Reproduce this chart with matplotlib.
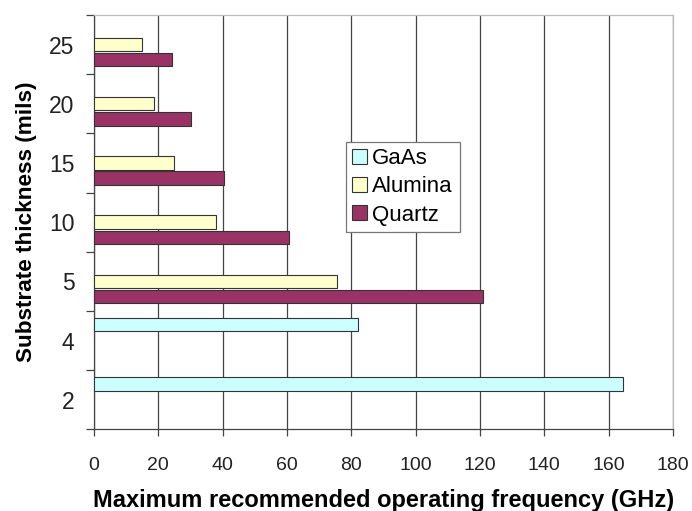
import numpy as np
import matplotlib.pyplot as plt

plt.rcParams['font.family'] = ['Liberation Sans', 'DejaVu Sans']

# substrate thickness categories, bottom to top
thickness = ['2', '4', '5', '10', '15', '20', '25']
gaas = [164.5, 82, np.nan, np.nan, np.nan, np.nan, np.nan]
alumina = [np.nan, np.nan, 75.5, 37.8, 25, 18.6, 15]
quartz = [np.nan, np.nan, 121, 60.7, 40.4, 30.3, 24.2]

series = [('GaAs', gaas, '#ccffff', 0.265),
          ('Alumina', alumina, '#ffffcc', 0.0),
          ('Quartz', quartz, '#993366', -0.255)]

fig = plt.figure(figsize=(6.92, 5.11), dpi=100)
ax = fig.add_axes([0.1358, 0.1599, 0.8367, 0.8107])

y = np.arange(len(thickness))
for name, vals, col, off in series:
    ax.barh(y + off, vals, height=0.225, color=col, edgecolor='#333333',
            linewidth=0.8, label=name, zorder=3)

ax.set_xlim(0, 180)
ax.set_ylim(-0.5, len(thickness) - 0.5)
ax.set_xticks(np.arange(0, 181, 20))
ax.xaxis.grid(True, color='#444444', linewidth=0.9, zorder=0)

# tick marks between categories, labels at the centres
ax.set_yticks(np.arange(-0.5, len(thickness), 1.0))
ax.set_yticklabels([])
ax.set_yticks(y, minor=True)
ax.set_yticklabels(thickness, minor=True, fontsize=16.5, color='#222222')
ax.tick_params(axis='y', which='major', length=6, width=0.9, color='#444444')
ax.tick_params(axis='y', which='minor', length=0, pad=14)
ax.tick_params(axis='x', length=5, width=0.9, color='#444444', pad=15,
               labelsize=14, labelcolor='#222222')

for side in ('left', 'bottom'):
    ax.spines[side].set_color('#444444')
    ax.spines[side].set_linewidth(0.9)
for side in ('top', 'right'):
    ax.spines[side].set_color('#bbbbbb')
    ax.spines[side].set_linewidth(0.9)

ax.set_xlabel('Maximum recommended operating frequency (GHz)',
              fontsize=17, fontweight='bold', labelpad=11)
ax.set_ylabel('Substrate thickness (mils)', fontsize=16.2, fontweight='bold',
              labelpad=9)

leg = ax.legend(loc='upper left', bbox_to_anchor=(345.7 / 692, 1 - 141.7 / 511),
                bbox_transform=fig.transFigure, fontsize=16, frameon=True,
                fancybox=False, edgecolor='#777777', framealpha=1,
                handlelength=0.65, handleheight=0.65, handletextpad=0.25,
                labelspacing=0.32, borderpad=0.3, borderaxespad=0)
leg.get_frame().set_linewidth(0.9)

fig.savefig('out.png', dpi=100)
